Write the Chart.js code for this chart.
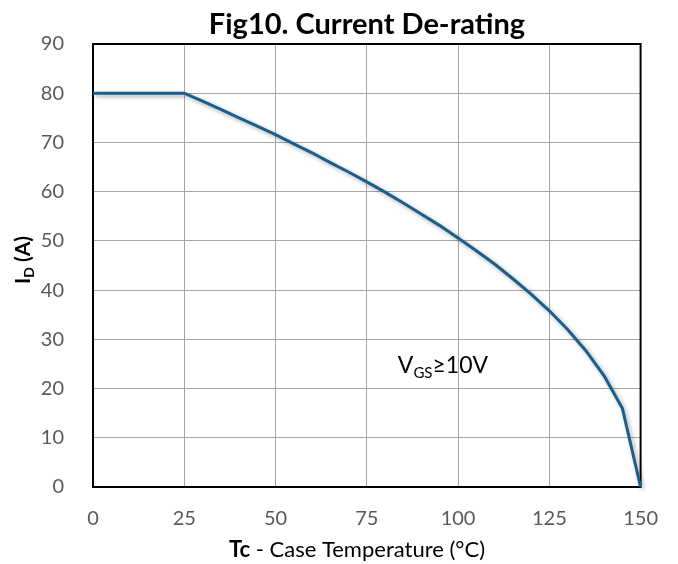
<!DOCTYPE html>
<html>
<head>
<meta charset="utf-8">
<script src="https://cdn.jsdelivr.net/npm/chart.js@4/dist/chart.umd.min.js"></script>
<style>
  html, body { margin: 0; padding: 0; background: #ffffff; }
  #wrap { width: 678px; height: 564px; position: relative; }
</style>
</head>
<body>
<div id="wrap"><canvas id="c" width="678" height="564"></canvas></div>
<script>
// Case temperature (°C)
const temperatures = [0, 25, 30, 35, 40, 45, 50, 55, 60, 65, 70, 75, 80, 85, 90, 95, 100, 105, 110, 115, 120, 125, 130, 135, 140, 145, 150];
// Drain current ID (A)
const currents = [80, 80, 78.4, 76.7, 75.0, 73.3, 71.6, 69.7, 67.9, 65.9, 64.0, 62.0, 59.9, 57.7, 55.4, 53.1, 50.6, 48.0, 45.3, 42.3, 39.2, 35.8, 32.0, 27.7, 22.6, 16.0, 0];
const xTicks = [0, 25, 50, 75, 100, 125, 150];
const yTicks = [0, 10, 20, 30, 40, 50, 60, 70, 80, 90];
const chartTitle = 'Fig10. Current De-rating';
const xTitleBold = 'Tc';
const xTitleRest = ' - Case Temperature (°C)';
const yTitleMain = 'I';
const yTitleSub = 'D';
const yTitleRest = ' (A)';
const noteMain = 'V';
const noteSub = 'GS';
const noteRest = '≥10V';

const FONT = 'Lato, "Open Sans", sans-serif';

const points = temperatures.map((t, i) => ({ x: t, y: currents[i] }));

const shadowPlugin = {
  id: 'shadow',
  beforeDatasetDraw(chart) {
    const ctx = chart.ctx;
    ctx.save();
    ctx.shadowColor = 'rgba(0,0,0,0.35)';
    ctx.shadowBlur = 4;
    ctx.shadowOffsetX = 2;
    ctx.shadowOffsetY = 2;
  },
  afterDatasetDraw(chart) {
    chart.ctx.restore();
  }
};

const framePlugin = {
  id: 'frame',
  beforeDatasetsDraw(chart) {
    const { ctx, chartArea: a } = chart;
    ctx.save();
    ctx.strokeStyle = '#000000';
    ctx.lineWidth = 2;
    ctx.strokeRect(a.left, a.top, a.right - a.left, a.bottom - a.top);
    ctx.restore();
  }
};

const textPlugin = {
  id: 'texts',
  afterDraw(chart) {
    const { ctx, chartArea: a, scales } = chart;
    ctx.save();
    ctx.fillStyle = '#000000';
    ctx.textBaseline = 'alphabetic';

    // Title
    ctx.font = 'bold 29px ' + FONT;
    ctx.textAlign = 'center';
    ctx.fillText(chartTitle, 367, 34);

    // X axis title (mixed bold)
    ctx.textAlign = 'left';
    ctx.font = 'bold 22px ' + FONT;
    const wB = ctx.measureText(xTitleBold).width;
    ctx.font = '22px ' + FONT;
    const wR = ctx.measureText(xTitleRest).width;
    let x0 = 357 - (wB + wR) / 2;
    ctx.font = 'bold 22px ' + FONT;
    ctx.fillText(xTitleBold, x0, 557);
    ctx.font = '22px ' + FONT;
    ctx.fillText(xTitleRest, x0 + wB, 557);

    // Y axis title (rotated, bold, subscript)
    ctx.save();
    ctx.translate(30, 260);
    ctx.rotate(-Math.PI / 2);
    ctx.font = 'bold 21px ' + FONT;
    const w1 = ctx.measureText(yTitleMain).width;
    ctx.font = 'bold 14px ' + FONT;
    const w2 = ctx.measureText(yTitleSub).width;
    ctx.font = 'bold 21px ' + FONT;
    const w3 = ctx.measureText(yTitleRest).width;
    let yx = -(w1 + w2 + w3) / 2;
    ctx.font = 'bold 21px ' + FONT;
    ctx.fillText(yTitleMain, yx, 0);
    ctx.font = 'bold 14px ' + FONT;
    ctx.fillText(yTitleSub, yx + w1, 4);
    ctx.font = 'bold 21px ' + FONT;
    ctx.fillText(yTitleRest, yx + w1 + w2, 0);
    ctx.restore();

    // Annotation VGS >= 10V
    const nx = scales.x.getPixelForValue(83.5);
    const ny = scales.y.getPixelForValue(23.2);
    ctx.font = '23px ' + FONT;
    ctx.fillText(noteMain, nx, ny);
    const v1 = ctx.measureText(noteMain).width;
    ctx.font = '15px ' + FONT;
    ctx.fillText(noteSub, nx + v1, ny + 5);
    const v2 = ctx.measureText(noteSub).width;
    ctx.font = '23px ' + FONT;
    ctx.fillText(noteRest, nx + v1 + v2, ny);
    ctx.restore();
  }
};

new Chart(document.getElementById('c'), {
  type: 'scatter',
  data: {
    datasets: [{
      data: points,
      showLine: true,
      borderColor: '#1B5E8C',
      backgroundColor: '#1B5E8C',
      borderWidth: 3,
      pointRadius: 0,
      pointHoverRadius: 0,
      tension: 0,
      clip: false
    }]
  },
  options: {
    responsive: false,
    animation: false,
    devicePixelRatio: 1,
    layout: { padding: { top: 44, right: 36, bottom: 0, left: 0 } },
    plugins: {
      legend: { display: false },
      title: { display: false },
      tooltip: { enabled: false }
    },
    scales: {
      x: {
        type: 'linear',
        min: 0,
        max: 150,
        afterFit(s) { s.height = 77; },
        afterBuildTicks(s) { s.ticks = xTicks.map(v => ({ value: v })); },
        grid: { color: '#A6A6A6', lineWidth: 1, drawTicks: false },
        border: { display: false },
        ticks: { color: '#595959', font: { family: FONT, size: 20 }, padding: 20, maxRotation: 0 }
      },
      y: {
        type: 'linear',
        min: 0,
        max: 90,
        afterFit(s) { s.width = 93; },
        afterBuildTicks(s) { s.ticks = yTicks.map(v => ({ value: v })); },
        grid: { color: '#A6A6A6', lineWidth: 1, drawTicks: false },
        border: { display: false },
        ticks: { color: '#595959', font: { family: FONT, size: 20 }, padding: 29 }
      }
    }
  },
  plugins: [framePlugin, shadowPlugin, textPlugin]
});
</script>
</body>
</html>
